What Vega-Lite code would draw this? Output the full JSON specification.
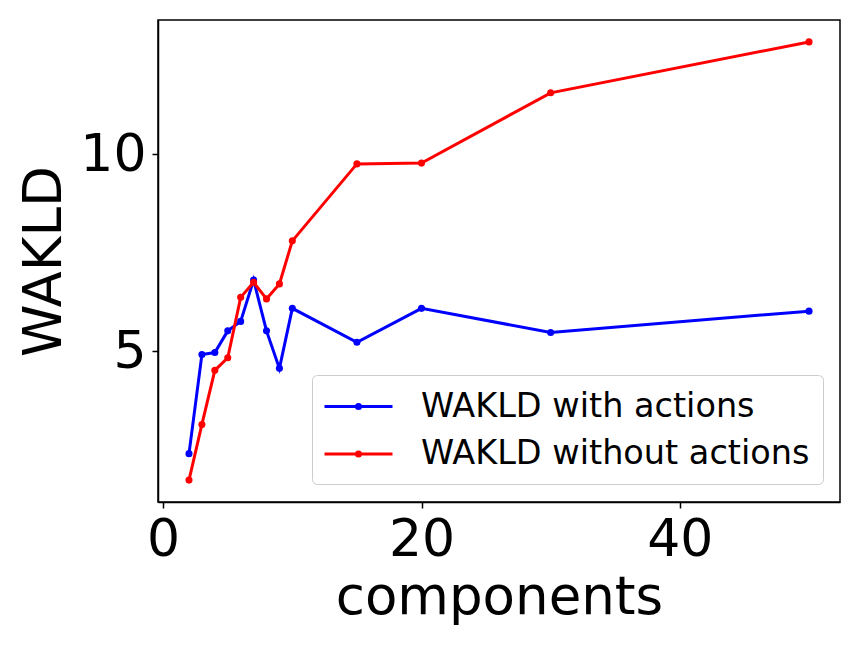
{
  "$schema": "https://vega.github.io/schema/vega-lite/v6.json",
  "width": 682,
  "height": 482,
  "autosize": "none",
  "padding": {"left": 158, "top": 20, "right": 21, "bottom": 144},
  "background": "white",
  "data": {
    "values": [
      {"series": "WAKLD with actions", "components": 2, "wakld": 2.41},
      {"series": "WAKLD with actions", "components": 3, "wakld": 4.92},
      {"series": "WAKLD with actions", "components": 4, "wakld": 4.97},
      {"series": "WAKLD with actions", "components": 5, "wakld": 5.52},
      {"series": "WAKLD with actions", "components": 6, "wakld": 5.76},
      {"series": "WAKLD with actions", "components": 7, "wakld": 6.81},
      {"series": "WAKLD with actions", "components": 8, "wakld": 5.52},
      {"series": "WAKLD with actions", "components": 9, "wakld": 4.57},
      {"series": "WAKLD with actions", "components": 10, "wakld": 6.09},
      {"series": "WAKLD with actions", "components": 15, "wakld": 5.23},
      {"series": "WAKLD with actions", "components": 20, "wakld": 6.09},
      {"series": "WAKLD with actions", "components": 30, "wakld": 5.48},
      {"series": "WAKLD with actions", "components": 50, "wakld": 6.02},
      {"series": "WAKLD without actions", "components": 2, "wakld": 1.74},
      {"series": "WAKLD without actions", "components": 3, "wakld": 3.15},
      {"series": "WAKLD without actions", "components": 4, "wakld": 4.52},
      {"series": "WAKLD without actions", "components": 5, "wakld": 4.84},
      {"series": "WAKLD without actions", "components": 6, "wakld": 6.37},
      {"series": "WAKLD without actions", "components": 7, "wakld": 6.75},
      {"series": "WAKLD without actions", "components": 8, "wakld": 6.33},
      {"series": "WAKLD without actions", "components": 9, "wakld": 6.71},
      {"series": "WAKLD without actions", "components": 10, "wakld": 7.8},
      {"series": "WAKLD without actions", "components": 15, "wakld": 9.75},
      {"series": "WAKLD without actions", "components": 20, "wakld": 9.77},
      {"series": "WAKLD without actions", "components": 30, "wakld": 11.55},
      {"series": "WAKLD without actions", "components": 50, "wakld": 12.84}
    ]
  },
  "encoding": {
    "x": {
      "field": "components",
      "type": "quantitative",
      "title": "components",
      "scale": {"domain": [-0.4, 52.4], "nice": false, "zero": false},
      "axis": {"values": [0, 20, 40], "titlePadding": 6}
    },
    "y": {
      "field": "wakld",
      "type": "quantitative",
      "title": "WAKLD",
      "scale": {"domain": [1.185, 13.395], "nice": false, "zero": false},
      "axis": {"values": [5, 10], "titlePadding": 8}
    },
    "color": {
      "field": "series",
      "type": "nominal",
      "scale": {
        "domain": ["WAKLD with actions", "WAKLD without actions"],
        "range": ["#0000ff", "#ff0000"]
      },
      "legend": {
        "title": null,
        "orient": "none",
        "legendX": 154,
        "legendY": 355,
        "symbolType": "M-2,0H2M0.12,0A0.12,0.12 0 1,1 -0.12,0A0.12,0.12 0 1,1 0.12,0",
        "symbolSize": 1156,
        "symbolStrokeWidth": 3,
        "symbolOffset": 15,
        "labelOffset": 44,
        "labelLimit": 0,
        "labelFont": "DejaVu Sans",
        "labelFontSize": 33.5,
        "labelColor": "black",
        "padding": 13,
        "rowPadding": 12.5,
        "fillColor": "white",
        "strokeColor": "#cccccc",
        "cornerRadius": 5
      }
    }
  },
  "layer": [
    {"mark": {"type": "line", "strokeWidth": 3}},
    {"mark": {"type": "point", "filled": true, "opacity": 1, "size": 50}}
  ],
  "config": {
    "view": {"stroke": "black", "strokeWidth": 1.5},
    "axis": {
      "grid": false,
      "labelFont": "DejaVu Sans",
      "titleFont": "DejaVu Sans",
      "labelFontSize": 52,
      "titleFontSize": 53,
      "titleFontWeight": "normal",
      "labelColor": "black",
      "titleColor": "black",
      "domainColor": "black",
      "domainWidth": 1.5,
      "tickColor": "black",
      "tickWidth": 1.5,
      "tickSize": 6,
      "labelPadding": 6
    }
  }
}
